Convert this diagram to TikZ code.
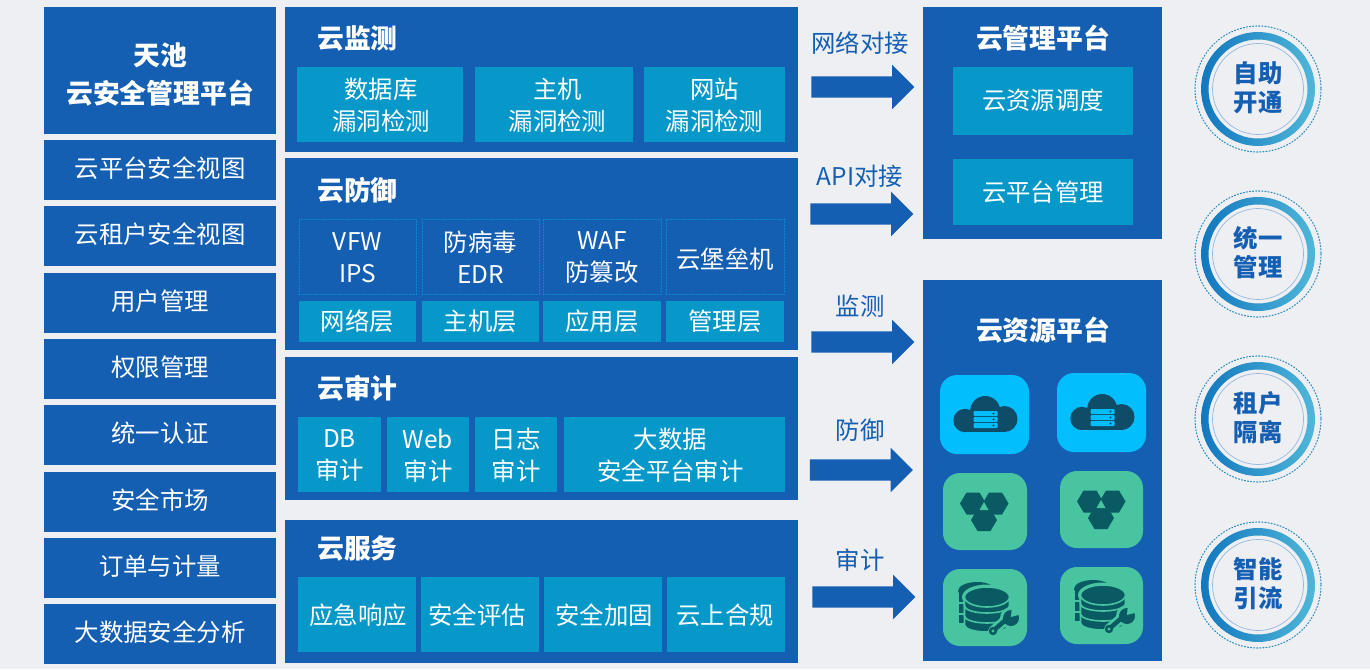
\documentclass[tikz,border=0pt]{standalone}
\usepackage{fontspec}
\setmainfont{Noto Sans CJK SC}
\usetikzlibrary{shapes.arrows, positioning, calc}
\definecolor{bgcolor}{RGB}{238,239,243}
\definecolor{panelblue}{RGB}{21,95,179}
\definecolor{tilecyan}{RGB}{5,152,200}
\definecolor{iconsky}{RGB}{2,190,252}
\definecolor{icongreen}{RGB}{72,196,160}
\definecolor{darkcloud}{RGB}{14,76,104}
\definecolor{darkteal}{RGB}{9,90,98}
\definecolor{dotline}{RGB}{8,146,218}
\tikzset{
  panel/.style={fill=panelblue, inner sep=0pt, outer sep=0pt},
  tiletext/.style={text=white, inner sep=0pt, align=center, font=\fontsize{24.4}{32}\selectfont},
  tilebox/.style={fill=tilecyan, inner sep=0pt, outer sep=0pt},
  dotbox/.style={draw=dotline, dotted, line width=1pt, inner sep=0pt, outer sep=0pt},
  iconbox/.style={rounded corners=17pt, inner sep=0pt, outer sep=0pt},
  heading/.style={text=white, inner sep=0pt, align=center, font=\fontsize{26.8}{38}\selectfont\bfseries},
  arrowlabel/.style={text=panelblue, inner sep=0pt, font=\fontsize{24.4}{30}\selectfont},
  bigarrow/.style={single arrow, fill=panelblue, minimum height=103pt, minimum width=44pt, inner sep=10.5pt, outer sep=0pt, single arrow head extend=11.5pt, single arrow tip angle=90, single arrow head indent=0pt},
  badgetext/.style={text=panelblue, align=center, inner sep=0pt, font=\fontsize{24.4}{29}\selectfont\bfseries}
}
% [text shift], name, style, x0, y0, x1, y1, text
\newcommand{\tile}[8][0]{
  \node[#3, minimum width={(#6-#4)*1pt}, minimum height={(#7-#5)*1pt}] (#2) at ({(#4+#6)/2},{(#5+#7)/2}) {};
  \node[tiletext] (#2text) at ($(#2.center)+(0,#1)$) {#8};
}
\newcommand{\cloudicon}[2]{
  \begin{scope}[shift={(#1,#2)}]
    \fill[darkcloud] (0.7,-4) circle (15);
    \fill[darkcloud] (-19.5,5.5) circle (11.7);
    \fill[darkcloud] (20,4) circle (13);
    \fill[darkcloud] (-19.5,0) rectangle (20,17);
    \foreach \yy in {-4,2,8} {
      \fill[iconsky, rounded corners=1pt] (-11,\yy) rectangle (13,\yy+5);
      \fill[darkcloud] (9,\yy+2.5) circle (1.2);
    }
  \end{scope}
}
\newcommand{\hexicon}[2]{
  \begin{scope}[shift={(#1,#2)}]
    \foreach \hx/\hy in {-11/-8.5, 11.5/-8.5, 0/8} {
      \fill[darkteal] (\hx-13,\hy) -- (\hx-6.5,\hy-11) -- (\hx+6.5,\hy-11) -- (\hx+13,\hy) -- (\hx+6.5,\hy+11) -- (\hx-6.5,\hy+11) -- cycle;
    }
    \fill[icongreen] (0,-10) -- (-4.5,-2) -- (4.5,-2) -- cycle;
  \end{scope}
}
\newcommand{\dbicon}[2]{
  \begin{scope}[shift={(#1,#2)}]
    % back stack
    \fill[darkteal] (-8,-17) ellipse (19 and 9);
    \fill[darkteal] (-26.5,-17) rectangle (-21,-6);
    \fill[darkteal] (-26.5,-4) rectangle (-21,5);
    \fill[darkteal] (-26.5,7) rectangle (-21,15);
    \fill[icongreen] (2,-11) ellipse (25 and 12.5);
    % front tiers, bottom first
    \foreach \bb in {24,15,5} {
      \filldraw[fill=darkteal, draw=icongreen, line width=1.6pt] (-20.5,-11) -- (24.5,-11) -- (24.5,\bb-7) arc[start angle=0, end angle=180, x radius=22.5, y radius=7] -- cycle;
    }
    \filldraw[fill=darkteal, draw=icongreen, line width=1.6pt] (2,-11) ellipse (22.5 and 10);
    % wrench
    \draw[icongreen, line width=10pt] (8,23) -- (24,9);
    \fill[icongreen] (26,10) circle (11);
    \draw[darkteal, line width=4.5pt] (8,23) -- (24,9);
    \fill[darkteal] (26,10) circle (8);
    \fill[icongreen] (26,9) -- (27,-3) -- (37,6) -- cycle;
    \fill[darkteal] (8,23) circle (4.2);
    \fill[icongreen] (8,23) circle (1.6);
  \end{scope}
}

\begin{document}
\begin{tikzpicture}[x=1pt, y=-1pt, line cap=round]
    \useasboundingbox (0,0) rectangle (1370,669);
    \fill[bgcolor] (0,0) rectangle (1370,669);

    % left column
    \tile{tianchi}{panel}{44}{7}{276}{134}{}
    \node[heading] (tianchititle) at (160,75) {天池\\云安全管理平台};
    \tile[-2]{leftone}{panel}{44}{140}{276}{200}{云平台安全视图}
    \tile[-2]{lefttwo}{panel}{44}{206}{276}{266}{云租户安全视图}
    \tile[-2]{leftthree}{panel}{44}{273}{276}{333}{用户管理}
    \tile[-2]{leftfour}{panel}{44}{339}{276}{399}{权限管理}
    \tile[-2]{leftfive}{panel}{44}{405}{276}{465}{统一认证}
    \tile[-2]{leftsix}{panel}{44}{472}{276}{532}{安全市场}
    \tile[-2]{leftseven}{panel}{44}{538}{276}{598}{订单与计量}
    \tile[-2]{lefteight}{panel}{44}{604}{276}{664}{大数据安全分析}

    % monitor
    \tile{monitor}{panel}{285}{7}{798}{152}{}
    \node[heading, anchor=west] (monitortitle) at (317,38) {云监测};
    \tile[1]{mdb}{tilebox}{297}{67}{463}{142}{\hspace*{2pt}数据库\\\hspace*{2pt}漏洞检测}
    \tile[1]{mhost}{tilebox}{475}{67}{633}{142}{\hspace*{7pt}主机\\\hspace*{7pt}漏洞检测}
    \tile[1]{msite}{tilebox}{644}{67}{785}{142}{网站\\漏洞检测}

    % defense
    \tile{defense}{panel}{285}{158}{798}{350}{}
    \node[heading, anchor=west] (defensetitle) at (317,190) {云防御};
    \tile[1]{dvfw}{dotbox}{299}{219}{416}{294}{VFW\\IPS}
    \tile[1]{dedr}{dotbox}{422}{219}{539}{294}{防病毒\\EDR}
    \tile[1]{dwaf}{dotbox}{543}{219}{661}{294}{WAF\\防篡改}
    \tile[3]{dbastion}{dotbox}{666}{219}{784}{294}{云堡垒机}
    \tile{dnet}{tilebox}{299}{301}{416}{342}{网络层}
    \tile{dhost}{tilebox}{422}{301}{539}{342}{主机层}
    \tile{dapp}{tilebox}{543}{301}{661}{342}{应用层}
    \tile{dmgmt}{tilebox}{666}{301}{784}{342}{管理层}

    % audit
    \tile{audit}{panel}{285}{357}{798}{500}{}
    \node[heading, anchor=west] (audittitle) at (317,388) {云审计};
    \tile[1]{adb}{tilebox}{298}{417}{381}{492}{DB\\审计}
    \tile[1]{aweb}{tilebox}{387}{417}{469}{492}{Web\\审计}
    \tile[1]{alog}{tilebox}{475}{417}{557}{492}{日志\\审计}
    \tile[1]{abig}{tilebox}{564}{417}{785}{492}{\hspace*{-8pt}大数据\\\hspace*{-8pt}安全平台审计}

    % service
    \tile{service}{panel}{285}{520}{798}{663}{}
    \node[heading, anchor=west] (servicetitle) at (317,548) {云服务};
    \tile[1]{sresp}{tilebox}{298}{577}{416}{652}{\hspace*{2pt}应急响应}
    \tile[1]{seval}{tilebox}{421}{577}{539}{652}{\hspace*{-6pt}安全评估}
    \tile[1]{sharden}{tilebox}{544}{577}{662}{652}{\hspace*{2pt}安全加固}
    \tile[1]{scomply}{tilebox}{667}{577}{785}{652}{\hspace*{-2pt}云上合规}

    % arrows
    \node[arrowlabel] (lbone) at (860,43) {网络对接};
    \node[arrowlabel] (lbtwo) at (860,176) {API对接};
    \node[arrowlabel] (lbthree) at (860,306) {监测};
    \node[arrowlabel] (lbfour) at (860,430) {防御};
    \node[arrowlabel] (lbfive) at (860,560) {审计};
    \node[bigarrow] (arone) at (857.5,87) {};
    \node[bigarrow] (artwo) at (856.5,214) {};
    \node[bigarrow] (arthree) at (857.5,342) {};
    \node[bigarrow] (arfour) at (856,470) {};
    \node[bigarrow] (arfive) at (858.5,597) {};

    % manage
    \tile{manage}{panel}{923}{7}{1162}{239}{}
    \node[heading] (managetitle) at (1043,38) {云管理平台};
    \tile[-1]{mgsched}{tilebox}{953}{67}{1133}{135}{云资源调度}
    \tile{mgplat}{tilebox}{953}{159}{1133}{225}{云平台管理}

    % resource
    \tile{resource}{panel}{923}{280}{1162}{661}{}
    \node[heading] (resourcetitle) at (1043,330) {云资源平台};
    \tile{icona}{iconbox, fill=iconsky}{940}{375}{1029}{454}{}
    \tile{iconb}{iconbox, fill=iconsky}{1057}{373}{1146}{452}{}
    \tile{iconc}{iconbox, fill=icongreen}{943}{473}{1027}{550}{}
    \tile{icond}{iconbox, fill=icongreen}{1060}{471}{1143}{548}{}
    \tile{icone}{iconbox, fill=icongreen}{943}{569}{1027}{646}{}
    \tile{iconf}{iconbox, fill=icongreen}{1060}{567}{1143}{644}{}
    \cloudicon{984.5}{415}
    \cloudicon{1101.5}{413}
    \hexicon{984}{512}
    \hexicon{1101}{510}
    \dbicon{985}{608}
    \dbicon{1101}{606}

    % badges
    \foreach \bname/\by/\btext in {auto/88/自助\\开通, unify/253/统一\\管理, tenant/418/租户\\隔离, smart/584/智能\\引流} {
        \shade[even odd rule, left color=panelblue!85!cyan, right color=tilecyan!70!white] (1258,\by+1) circle (57) (1258,\by+1) circle (49.5);
        \draw[dotline!70!gray, dotted, line width=1.1pt] (1258,\by+1) circle (63);
        \draw[panelblue!45!white, line width=0.7pt] (1258,\by+1) circle (45.5);
        \node[badgetext] (\bname) at (1258,\by) {\btext};
    }
\end{tikzpicture}
\end{document}
